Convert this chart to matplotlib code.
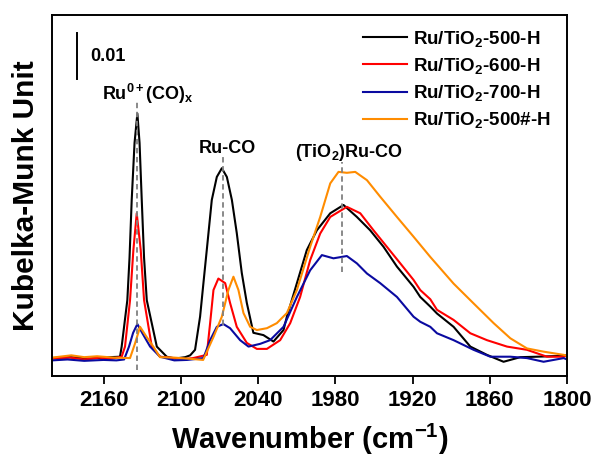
import matplotlib
matplotlib.use("Agg")
import matplotlib.pyplot as plt

plt.rcParams['font.family'] = ['Liberation Sans', 'DejaVu Sans']
plt.rcParams['font.weight'] = 'bold'
plt.rcParams['mathtext.fontset'] = 'custom'
plt.rcParams['mathtext.rm'] = 'Liberation Sans:bold'
plt.rcParams['mathtext.it'] = 'Liberation Sans:bold'
plt.rcParams['mathtext.bf'] = 'Liberation Sans:bold'

# DRIFTS spectra of CO adsorbed on the reduced Ru/TiO2 samples
wn_500 = [2200, 2186, 2170.5, 2155, 2147.2, 2145.9, 2141.5, 2139.8, 2138.1, 2135.9,
          2133.7, 2132.0, 2130.3, 2128.5, 2126.4, 2118.6, 2110.9, 2104.4, 2096.6, 2092.7,
          2088.9, 2085.0, 2082.4, 2079.8, 2075.9, 2072.0, 2068.1, 2064.2, 2060.3, 2056.5,
          2052.6, 2048.7, 2043.6, 2035.8, 2028.0, 2020.2, 2017.6, 2009.8, 2002.1, 1994.3,
          1983.9, 1973.6, 1963.2, 1952.9, 1942.5, 1932.1, 1919.2, 1914.0, 1906.2, 1901.0,
          1888.1, 1875.1, 1862.2, 1849.3, 1836.3, 1823.3, 1802.6, 1800]
km_500 = [0.0002, 0.0004, 0.0001, 0.0004, 0.0005, 0.0027, 0.0128, 0.0220, 0.0346, 0.0470,
          0.0534, 0.0470, 0.0346, 0.0220, 0.0128, 0.0027, 0.0005, 0.0001, 0.0004, 0.0008,
          0.0020, 0.0092, 0.0165, 0.0237, 0.0346, 0.0396, 0.0415, 0.0396, 0.0346, 0.0274,
          0.0187, 0.0122, 0.0057, 0.0052, 0.0038, 0.0063, 0.0092, 0.0165, 0.0237, 0.0280,
          0.0317, 0.0335, 0.0309, 0.0280, 0.0244, 0.0201, 0.0157, 0.0135, 0.0114, 0.0099,
          0.0070, 0.0027, 0.0009, -0.0006, 0.0004, 0.0005, 0.0007, 0.0008]

wn_600 = [2200, 2186, 2175, 2163, 2155, 2145.9, 2143.3, 2139.4, 2136.8, 2134.2,
          2131.1, 2128.5, 2122.5, 2116.1, 2105, 2096.6, 2090.4, 2079.8, 2077.2, 2074.6,
          2070.8, 2065.5, 2061.7, 2056.5, 2048.7, 2040.9, 2033.1, 2022.8, 2015.0, 2007.3,
          1999.5, 1991.7, 1983.9, 1971.0, 1960.6, 1950.3, 1939.9, 1929.5, 1919.2, 1914.0,
          1906.2, 1901.0, 1888.1, 1875.1, 1862.2, 1846.6, 1831.1, 1815.6, 1802.6, 1800]
km_600 = [0.0001, 0.0003, -0.0001, 0.0003, 0.0000, 0.0005, 0.0027, 0.0128, 0.0237, 0.0317,
          0.0237, 0.0128, 0.0027, 0.0005, 0.0002, 0.0000, 0.0002, 0.0009, 0.0078, 0.0150,
          0.0175, 0.0165, 0.0122, 0.0070, 0.0035, 0.0022, 0.0022, 0.0041, 0.0078, 0.0135,
          0.0215, 0.0273, 0.0309, 0.0331, 0.0317, 0.0280, 0.0244, 0.0208, 0.0172, 0.0150,
          0.0130, 0.0107, 0.0085, 0.0056, 0.0041, 0.0027, 0.0020, 0.0005, 0.0005, 0.0008]

wn_700 = [2200, 2188, 2175, 2160, 2150, 2144.0, 2140.2, 2137.0, 2133.7, 2130.0,
          2123.8, 2116.1, 2105, 2095, 2082.4, 2077.2, 2072.0, 2066.9, 2061.7, 2053.9,
          2047.4, 2038.3, 2030.6, 2020.2, 2009.8, 1999.5, 1990.4, 1981.4, 1971.0, 1963.2,
          1955.4, 1945.1, 1932.1, 1919.2, 1914.0, 1906.2, 1901.0, 1888.1, 1872.6, 1859.6,
          1844.0, 1831.1, 1818.2, 1802.6, 1800]
km_700 = [-0.0003, -0.0001, -0.0004, -0.0002, -0.0003, -0.0001, 0.0027, 0.0057, 0.0076, 0.0057,
          0.0027, 0.0005, -0.0003, -0.0002, 0.0002, 0.0041, 0.0070, 0.0076, 0.0067, 0.0041,
          0.0027, 0.0033, 0.0041, 0.0070, 0.0135, 0.0193, 0.0226, 0.0219, 0.0224, 0.0208,
          0.0186, 0.0165, 0.0135, 0.0092, 0.0081, 0.0070, 0.0056, 0.0041, 0.0020, 0.0005,
          0.0005, 0.0002, -0.0006, 0.0002, -0.0001]

wn_500s = [2200, 2185, 2175, 2165, 2152, 2139.4, 2135.5, 2131.6, 2127, 2121.3,
           2116.1, 2105, 2095, 2082.6, 2074.6, 2068.1, 2063.0, 2059.1, 2055.2, 2051.3,
           2046.1, 2040.9, 2033.1, 2025.4, 2017.6, 2009.8, 1999.5, 1991.7, 1983.9, 1977.5,
           1971.0, 1964.5, 1955.4, 1945.1, 1932.1, 1919.2, 1906.2, 1888.1, 1872.6, 1857.0,
           1844.0, 1831.1, 1818.2, 1802.6, 1800]
km_500s = [0.0003, 0.0008, 0.0004, 0.0006, 0.0003, 0.0002, 0.0034, 0.0070, 0.0050, 0.0027,
           0.0004, 0.0003, 0.0001, -0.0002, 0.0048, 0.0092, 0.0150, 0.0179, 0.0150, 0.0100,
           0.0070, 0.0063, 0.0067, 0.0078, 0.0100, 0.0150, 0.0244, 0.0309, 0.0382, 0.0407,
           0.0405, 0.0407, 0.0389, 0.0353, 0.0309, 0.0266, 0.0222, 0.0164, 0.0121, 0.0078,
           0.0045, 0.0023, 0.0016, 0.0009, 0.0007]

labels = ['Ru/TiO$_2$-500-H', 'Ru/TiO$_2$-600-H', 'Ru/TiO$_2$-700-H', 'Ru/TiO$_2$-500#-H']
colors = ['#000000', '#ff0000', '#0a0aa0', '#ff8c00']

# band assignments: (position, line bottom, line top, label, label x, label y)
bands = [
    (2133.7, -0.0024, 0.0561, 'Ru$^{0+}$(CO)$_x$', 2125.4, 0.0563),
    (2067.3, 0.0074, 0.0440, 'Ru-CO', 2063.6, 0.0447),
    (1974.4, 0.0190, 0.0429, '(TiO$_2$)Ru-CO', 1969.7, 0.0440),
]

fig = plt.figure(figsize=(5.93, 4.58), dpi=100)
ax = fig.add_axes([0.0877, 0.179, 0.8685, 0.788])

series = [(wn_500, km_500), (wn_600, km_600), (wn_700, km_700), (wn_500s, km_500s)]
for (wn, km), lab, col in zip(series, labels, colors):
    ax.plot(wn, km, color=col, lw=1.5, label=lab)

for pos, lo, hi, text, tx, ty in bands:
    ax.plot([pos, pos], [lo, hi], color='#808080', lw=1.3, ls=(0, (3, 2)))
    ax.text(tx, ty, text, ha='center', va='baseline', fontsize=13, fontweight='bold')

# 0.01 scale bar
ax.plot([2180.3, 2180.3], [0.061, 0.071], color='black', lw=1.4)
ax.text(2170.5, 0.0657, '0.01', ha='left', va='center', fontsize=13, fontweight='bold')

ax.set_xlim(2200, 1800)
ax.set_ylim(-0.0037, 0.0748)
ax.set_xticks([2160, 2100, 2040, 1980, 1920, 1860, 1800])
ax.set_yticks([])
ax.tick_params(axis='x', direction='out', length=6, width=1.3, labelsize=16, pad=4)
for lbl in ax.get_xticklabels():
    lbl.set_fontweight('bold')
for sp in ax.spines.values():
    sp.set_linewidth(1.4)

ax.set_xlabel('Wavenumber (cm$^{-1}$)', fontsize=21, fontweight='bold', labelpad=8)
ax.set_ylabel('Kubelka-Munk Unit', fontsize=21.5, fontweight='bold', labelpad=9)

ax.legend(loc='upper left', bbox_to_anchor=(0.604, 0.962), frameon=False,
          prop={'size': 13.5, 'weight': 'bold'}, handlelength=2.35, handletextpad=0.3,
          labelspacing=0.38, borderpad=0, borderaxespad=0)

fig.savefig('out.png', dpi=100)
